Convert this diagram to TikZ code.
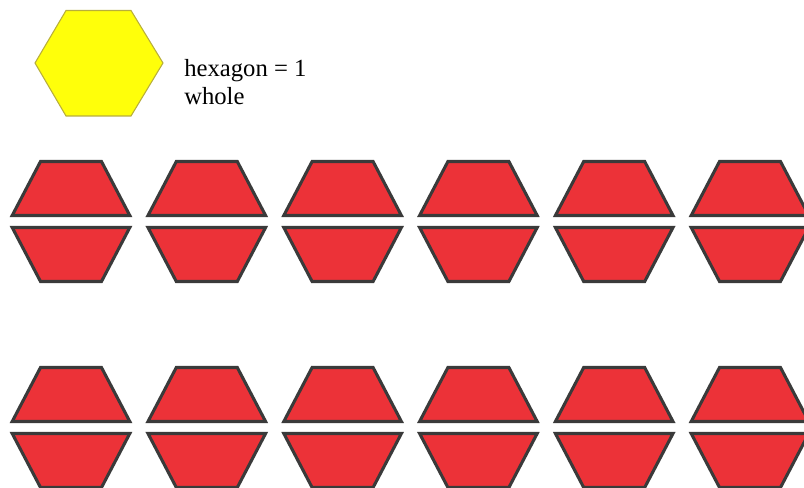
\documentclass[tikz,border=0pt]{standalone}
\usepackage{fontspec}
\setmainfont{Liberation Serif}
\definecolor{hexyellow}{HTML}{FFFF0A}
\definecolor{hexedge}{HTML}{B8AE3A}
\definecolor{trapred}{HTML}{EC3238}
\definecolor{trapedge}{HTML}{3A3A3A}
\tikzset{
  yellowhex/.style={fill=hexyellow, draw=hexedge, line width=0.8pt},
  redtrap/.style={fill=trapred, draw=trapedge, line width=2.3pt, line join=miter},
  label/.style={anchor=base west, inner sep=0pt, font=\fontsize{18.5}{21}\selectfont, text=black}
}
\begin{document}
\begin{tikzpicture}[x=0.75pt, y=-0.75pt]
\useasboundingbox (0,0) rectangle (804,488);
\begin{scope}
\clip (0,0) rectangle (804,488);
% yellow hexagon = 1 whole
\draw[yellowhex] (35,63) -- (66,10.5) -- (131,10.5) -- (163,63) -- (131,116) -- (66,116) -- cycle;
\node[label] (t1) at (184,76.7) {hexagon = 1};
\node[label] (t2) at (184,104.5) {whole};
% red trapezoids (halves of hexagons)
\foreach \cx in {71,206.8,342.6,478.4,614.2,750}{
  \foreach \dy in {0,206}{
    \draw[redtrap] (\cx-30.5,161.5+\dy) -- (\cx+30.5,161.5+\dy) -- (\cx+58.8,215.5+\dy) -- (\cx-58.8,215.5+\dy) -- cycle;
    \draw[redtrap] (\cx-58.8,227.5+\dy) -- (\cx+58.8,227.5+\dy) -- (\cx+30.5,281.5+\dy) -- (\cx-30.5,281.5+\dy) -- cycle;
  }
}
\end{scope}
\end{tikzpicture}
\end{document}
